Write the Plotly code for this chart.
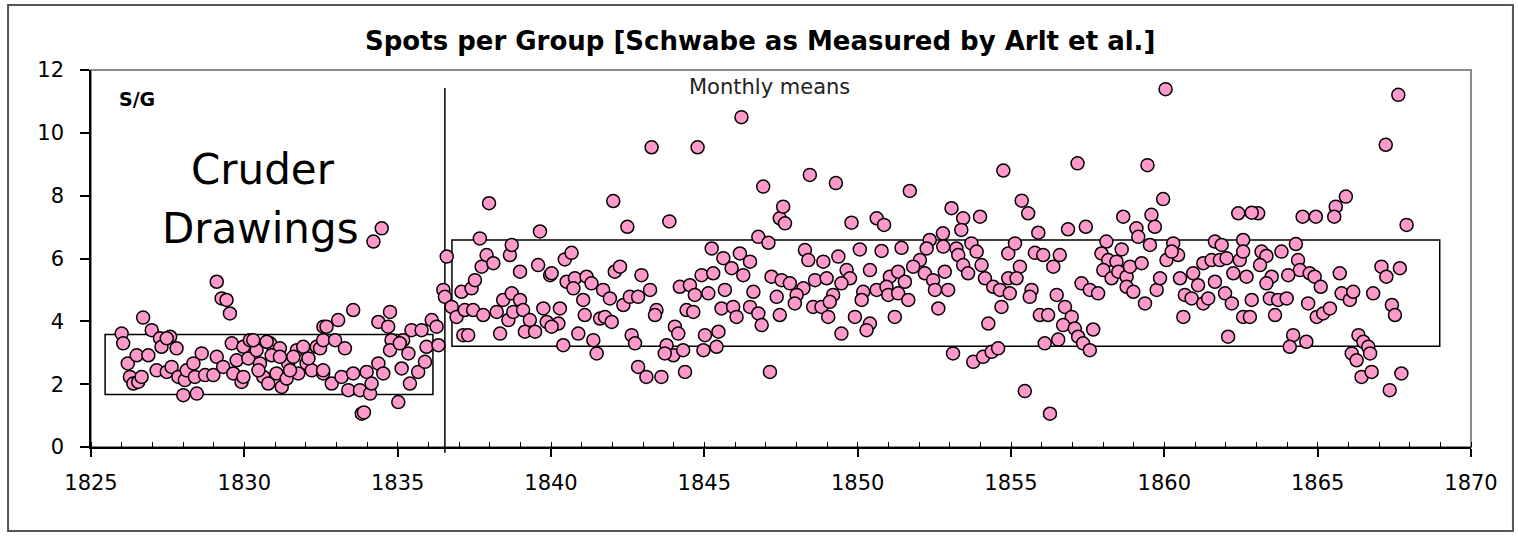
import plotly.graph_objects as go

# ---- data ----
years_a = [1826.00,1826.05,1826.70,1826.98,1826.20,1826.27,1826.38,1826.54,1826.65,1826.49,1826.87,1827.14,1827.25,1827.30,1827.58,1827.47,1827.79,1827.63,1827.85,1828.06,1828.01,1828.45,1828.12,1828.34,1828.61,1828.39,1828.72,1828.99,1829.10,1829.31,1829.10,1829.26,1829.42,1829.53,1829.59,1829.64,1829.91,1829.75,1829.97,1830.18,1830.13,1830.40,1830.51,1830.62,1830.78,1830.84,1831.16,1830.89,1831.05,1831.22,1831.38,1831.43,1831.71,1831.76,1831.92,1832.03,1832.20,1832.36,1832.57,1832.58,1830.29,1830.73,1831.16,1831.60,1832.09,1832.47,1831.49,1830.46,1829.97,1827.47]
values_a = [3.61,3.30,4.12,3.72,2.66,2.23,2.02,2.07,2.23,2.92,2.92,2.44,3.46,3.19,3.51,2.39,3.14,2.55,2.23,2.13,1.65,1.70,2.44,2.66,2.98,2.23,2.29,2.29,2.87,2.55,5.26,4.73,4.68,4.25,3.30,2.34,2.07,2.76,3.19,3.40,2.82,3.08,2.66,2.23,2.02,3.30,3.14,2.92,2.34,1.91,2.18,2.66,3.08,2.34,3.19,2.66,2.44,3.19,2.34,3.83,3.40,3.35,2.87,2.87,2.82,3.14,2.44,2.44,2.23,3.46]

years_b = [1834.21,1834.48,1832.68,1833.06,1833.55,1832.57,1832.96,1833.28,1832.57,1832.85,1833.17,1833.39,1833.55,1833.77,1833.99,1834.10,1834.15,1834.37,1834.53,1833.83,1833.90,1835.02,1834.37,1834.69,1834.75,1834.80,1835.18,1834.75,1835.35,1835.13,1835.40,1835.67,1835.89,1835.45,1835.78,1835.94,1836.11,1836.27,1836.33,1835.07,1836.49,1836.54,1836.60,1836.76,1836.92,1837.08,1837.41,1837.52,1837.74,1837.90,1838.12,1837.68,1837.98,1837.19,1837.46,1837.14,1837.30,1837.79,1838.23,1838.44,1838.72,1838.99,1838.61,1838.34,1838.77,1839.09,1839.31,1839.15,1839.48,1838.99,1838.66,1838.72,1839.58,1839.64,1839.97,1839.75,1839.86]
values_b = [6.54,6.96,3.83,4.04,4.36,3.40,3.40,3.14,2.44,2.02,2.23,1.81,2.34,1.81,2.39,1.70,2.02,2.66,2.34,1.06,1.10,1.43,3.98,3.83,4.30,3.40,3.40,3.08,2.98,2.50,2.02,2.39,2.71,3.72,3.72,3.19,4.04,3.83,3.24,3.30,5.00,4.78,6.06,4.46,4.14,4.94,5.05,5.31,5.74,6.11,5.85,6.64,7.76,4.36,4.36,3.56,3.56,4.20,4.30,4.68,4.89,4.68,4.04,3.61,4.30,4.36,4.04,3.67,3.67,5.58,6.11,6.43,5.79,6.86,5.47,4.41,3.98]

years_c = [1843.28,1844.78,1846.21,1842.03,1842.49,1843.86,1846.92,1846.76,1847.09,1845.24,1845.62,1845.89,1846.16,1846.49,1846.27,1844.91,1845.29,1840.45,1840.67,1840.02,1840.51,1840.78,1840.73,1841.16,1841.32,1841.70,1841.92,1842.08,1842.25,1842.36,1842.57,1842.84,1842.95,1843.23,1841.05,1841.10,1840.29,1840.24,1840.02,1840.89,1841.38,1841.49,1840.40,1841.60,1841.76,1841.98,1842.63,1842.74,1843.44,1843.39,1842.84,1843.11,1843.60,1843.77,1844.04,1844.15,1843.99,1844.31,1844.37,1843.71,1844.20,1844.53,1844.69,1845.13,1844.42,1844.64,1845.02,1844.97,1845.40,1845.46,1845.67,1845.56,1845.94,1846.05,1846.49,1846.60,1846.76,1846.87,1847.14,1847.19,1847.36,1847.46,1847.46,1847.57]
values_c = [9.54,9.54,10.50,7.83,7.01,7.18,8.29,6.69,6.50,6.32,6.01,5.69,6.16,5.90,5.47,5.47,5.53,5.97,6.18,5.53,5.26,5.37,5.05,5.42,5.21,5.00,4.73,5.58,5.74,4.52,4.78,4.78,5.47,5.00,4.68,4.20,4.41,3.93,3.83,3.61,3.40,2.98,3.24,4.09,4.14,3.98,3.56,3.30,4.36,4.20,2.55,2.23,2.23,3.24,3.83,3.61,2.92,3.08,2.39,2.98,5.10,5.15,4.84,4.89,4.36,4.30,3.56,3.08,3.19,3.67,5.00,4.41,4.46,4.14,4.46,4.94,4.25,3.88,2.39,5.42,4.78,4.20,7.28,7.65]

years_d = [1848.44,1849.29,1851.70,1854.75,1847.63,1849.80,1850.62,1850.86,1853.06,1853.44,1853.99,1853.38,1852.78,1852.35,1848.28,1848.39,1848.88,1849.37,1850.07,1850.78,1851.43,1852.03,1852.25,1852.79,1853.22,1853.28,1853.71,1853.88,1854.91,1849.64,1849.75,1850.40,1851.05,1851.32,1851.81,1852.19,1852.84,1853.44,1853.60,1854.04,1854.15,1854.42,1854.64,1854.96,1854.91,1847.52,1847.79,1848.23,1848.61,1848.99,1849.47,1849.20,1848.01,1847.95,1848.55,1848.82,1849.09,1849.04,1849.47,1849.91,1850.18,1850.13,1850.40,1850.29,1850.62,1850.94,1851.00,1851.32,1851.21,1851.54,1851.65,1852.46,1852.52,1852.95,1852.63,1854.26,1854.69,1853.11,1853.77,1854.09,1854.37,1854.58]
values_d = [8.66,8.40,8.15,8.80,7.12,7.14,7.28,7.07,7.60,7.28,7.33,6.91,6.80,6.59,6.27,5.95,5.90,6.06,6.29,6.24,6.34,5.95,6.32,6.38,6.32,6.11,6.48,6.22,6.16,5.63,5.37,5.63,5.42,5.58,5.74,5.53,5.58,5.79,5.53,5.79,5.37,5.10,5.00,4.89,5.37,5.31,5.21,5.05,5.31,5.37,5.21,4.84,4.84,4.57,4.46,4.46,4.62,4.14,3.61,4.14,4.94,4.68,3.93,3.72,5.00,5.10,4.84,4.89,4.14,5.26,4.68,5.31,5.00,5.00,4.41,3.93,4.46,2.98,2.71,2.87,3.03,3.14]

years_e = [1860.04,1857.17,1859.45,1859.96,1855.35,1855.56,1858.66,1859.58,1859.69,1859.09,1856.86,1857.44,1855.89,1862.41,1855.13,1855.78,1856.05,1856.59,1856.38,1855.29,1855.18,1855.67,1855.61,1856.49,1855.94,1856.21,1856.76,1856.98,1856.70,1857.08,1857.19,1857.35,1857.57,1857.68,1856.54,1856.10,1857.30,1857.57,1857.84,1855.45,1856.27,1858.11,1857.95,1858.17,1858.01,1858.44,1858.61,1858.28,1858.50,1858.77,1858.88,1859.26,1859.15,1859.53,1858.77,1858.99,1859.37,1859.75,1859.86,1860.07,1860.29,1860.45,1860.24,1860.51,1860.67,1860.62,1860.89,1860.94,1861.10,1861.27,1861.43,1861.27,1861.54,1861.65,1861.81,1862.03,1861.65,1861.87,1861.98,1862.20,1862.25,1862.46,1862.57,1862.08,1862.57]
values_e = [11.39,9.03,8.97,7.89,7.84,7.44,7.33,7.39,7.01,6.96,6.93,7.01,6.82,7.44,6.48,6.18,6.11,6.11,5.74,5.74,5.37,5.00,4.78,4.84,4.20,4.20,4.46,4.14,3.88,3.77,3.51,3.30,3.08,3.74,3.42,3.30,5.21,5.00,4.89,1.78,1.06,6.54,6.16,5.95,5.63,5.90,6.29,5.37,5.58,5.42,5.74,5.85,6.69,6.43,5.10,4.94,4.57,5.00,5.37,5.95,6.48,6.11,6.22,5.37,4.84,4.14,4.73,5.53,5.15,4.57,4.73,5.85,5.95,5.26,5.95,6.01,6.54,6.43,4.89,4.57,5.53,5.95,6.59,3.51,4.14]

years_f = [1867.63,1867.22,1865.92,1865.59,1865.54,1864.51,1864.94,1863.06,1862.85,1867.90,1864.29,1862.57,1863.17,1863.82,1863.33,1864.36,1863.12,1864.42,1862.68,1863.50,1864.04,1864.74,1864.90,1865.72,1863.33,1865.10,1865.78,1866.05,1866.16,1866.81,1867.08,1867.24,1867.68,1862.85,1863.44,1863.71,1863.99,1864.69,1862.79,1863.61,1864.97,1865.18,1865.40,1867.42,1867.52,1864.20,1864.09,1864.63,1866.33,1866.49,1866.65,1866.71,1866.11,1866.27,1866.43,1866.76,1867.35,1867.73]
values_f = [11.21,9.62,7.97,7.65,7.33,7.33,7.33,7.44,7.46,7.07,6.46,6.22,6.22,6.22,6.08,5.95,5.79,5.63,5.42,5.42,5.47,5.53,5.42,5.53,5.21,5.10,4.89,4.68,4.94,4.89,5.74,5.42,5.69,4.68,4.73,4.68,4.73,4.57,4.14,4.20,4.14,4.25,4.41,4.52,4.20,3.56,3.19,3.35,3.56,3.35,3.19,2.98,2.98,2.76,2.23,2.39,1.81,2.34]

years = years_a + years_b + years_c + years_d + years_e + years_f
values = values_a + values_b + values_c + values_d + values_e + values_f

# annotation geometry (data units)
divider_year = 1836.54
crude_box = dict(x0=1825.46, x1=1836.15, y0=1.67, y1=3.58)
good_box = dict(x0=1836.77, x1=1868.98, y0=3.21, y1=6.59)

x_ticks = [1825, 1830, 1835, 1840, 1845, 1850, 1855, 1860, 1865, 1870]
y_ticks = [0, 2, 4, 6, 8, 10, 12]

FONT = "DejaVu Sans"

fig = go.Figure()
fig.add_trace(go.Scatter(
    x=years, y=values, mode="markers",
    marker=dict(symbol="circle", size=13, color="#FF99CC",
                line=dict(color="black", width=1.5)),
    hoverinfo="skip", showlegend=False,
))

shapes = [
    # outer chart frame
    dict(type="rect", xref="paper", yref="paper", x0=-0.0601, x1=1.0304, y0=-0.2228, y1=1.1724,
         line=dict(color="#555555", width=2), layer="below"),
    # plot-area border (top/right in gray)
    dict(type="rect", xref="paper", yref="paper", x0=0, x1=1, y0=0, y1=1,
         line=dict(color="#8c8c8c", width=2), layer="below"),
    dict(type="line", xref="x", yref="paper", x0=divider_year, x1=divider_year, y0=-0.015, y1=0.952,
         line=dict(color="black", width=1.5), layer="below"),
    dict(type="rect", xref="x", yref="y", **crude_box, line=dict(color="black", width=1.5), layer="below"),
    dict(type="rect", xref="x", yref="y", **good_box, line=dict(color="black", width=1.5), layer="below"),
]

annotations = [
    dict(text="<b>Spots per Group [Schwabe as Measured by Arlt et al.]</b>", xref="paper", yref="paper",
         x=0.4848, y=1.077, xanchor="center", yanchor="middle", showarrow=False,
         font=dict(family=FONT, size=26, color="black")),
    dict(text="<b>S/G</b>", xref="paper", yref="paper", x=0.0188, y=0.923, xanchor="left", yanchor="middle",
         showarrow=False, font=dict(family=FONT, size=19, color="black")),
    dict(text="Monthly means", xref="paper", yref="paper", x=0.492, y=0.955, xanchor="center", yanchor="middle",
         showarrow=False, font=dict(family=FONT, size=21, color="#222222")),
    dict(text="Cruder", xref="paper", yref="paper", x=0.1246, y=0.735, xanchor="center", yanchor="middle",
         showarrow=False, font=dict(family=FONT, size=42, color="black")),
    dict(text="Drawings", xref="paper", yref="paper", x=0.1225, y=0.58, xanchor="center", yanchor="middle",
         showarrow=False, font=dict(family=FONT, size=42, color="black")),
]

fig.update_layout(
    width=1518, height=536,
    margin=dict(l=91, r=47, t=70, b=89, autoexpand=False),
    paper_bgcolor="white", plot_bgcolor="white",
    shapes=shapes, annotations=annotations,
    xaxis=dict(range=[1825, 1870], tickvals=x_ticks, ticktext=[str(v) for v in x_ticks],
               showgrid=False, zeroline=False, showline=True, linecolor="black", linewidth=1.5,
               ticks="outside", ticklen=8, tickwidth=1.5, tickcolor="black",
               minor=dict(dtick=1, tick0=1825, ticks="inside", ticklen=5, tickwidth=1.2, tickcolor="black"),
               ticklabelstandoff=8,
               tickfont=dict(family=FONT, size=21, color="black")),
    yaxis=dict(range=[0, 12], tickvals=y_ticks, ticktext=[str(v) for v in y_ticks],
               showgrid=False, zeroline=False, showline=True, linecolor="black", linewidth=1.5,
               ticks="outside", ticklen=9, tickwidth=1.5, tickcolor="black",
               ticklabelstandoff=12,
               tickfont=dict(family=FONT, size=21, color="black")),
)

fig.write_html("out.html", config={"displayModeBar": False},
               post_script="document.body.style.margin='0';document.body.style.overflow='hidden';")
